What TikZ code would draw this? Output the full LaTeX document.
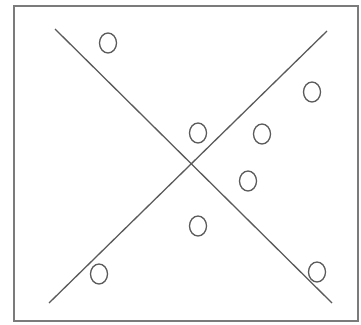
\documentclass[tikz,border=0pt]{standalone}
\usetikzlibrary{shapes.geometric}
\definecolor{ink}{RGB}{90,90,90}
\tikzset{
  dot/.style={draw=ink, line width=1.3pt, ellipse, minimum width=17pt, minimum height=20pt, inner sep=0pt},
  axisline/.style={draw=ink, line width=1.3pt},
  frame/.style={draw=ink!80, line width=1.4pt}
}
\begin{document}
\begin{tikzpicture}[x=1pt,y=-1pt]
\useasboundingbox (0,0) rectangle (361,324);
\draw[frame] (14,6) rectangle (358,321);
\coordinate (a1) at (55,29);
\coordinate (a2) at (332,303);
\coordinate (b1) at (49,303);
\coordinate (b2) at (327,31);
\draw[axisline] (a1) -- (a2);
\draw[axisline] (b1) -- (b2);
\node[dot] (c1) at (108,43) {};
\node[dot] (c2) at (312,92) {};
\node[dot] (c3) at (198,133) {};
\node[dot] (c4) at (262,134) {};
\node[dot] (c5) at (248,181) {};
\node[dot] (c6) at (198,226) {};
\node[dot] (c7) at (99,274) {};
\node[dot] (c8) at (317,272) {};
\end{tikzpicture}
\end{document}
